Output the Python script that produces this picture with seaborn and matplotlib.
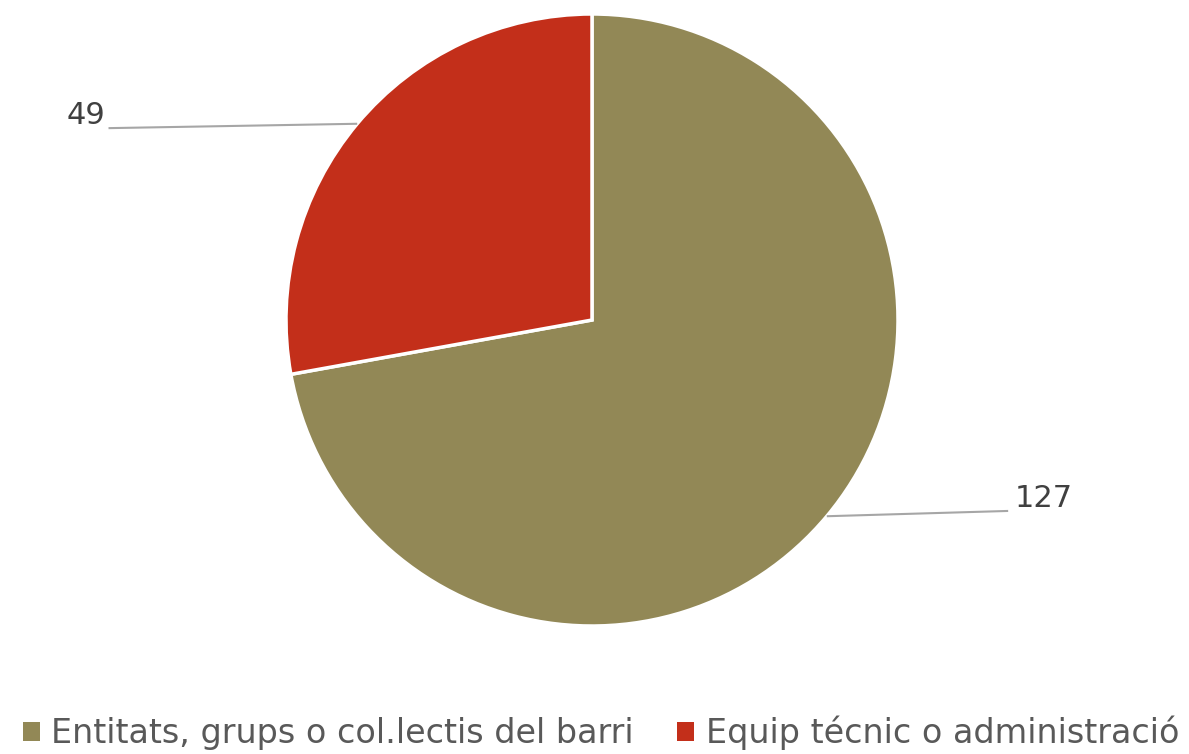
import numpy as np
import matplotlib
matplotlib.use("Agg")
import matplotlib.pyplot as plt
import seaborn as sns
from matplotlib.patches import Patch

categories = ["Entitats, grups o col.lectis del barri", "Equip técnic o administració"]
values = [127, 49]
colors = ["#928856", "#C32F1A"]

sns.set_theme(style="white")
plt.rcParams['font.family'] = ['DejaVu Sans']

W, H = 1189, 754
fig = plt.figure(figsize=(W / 100, H / 100), dpi=100)
ax = fig.add_axes([0, 0, 1, 1])
cx, cy, r = 592, 320, 306

wedges, _ = ax.pie(values, colors=colors, startangle=90, counterclock=False,
                   radius=1.0, center=(0, 0), frame=True,
                   wedgeprops=dict(edgecolor="white", linewidth=2.5))
ax.set_xlim(-cx / r, (W - cx) / r)
ax.set_ylim(-(H - cy) / r, cy / r)
ax.set_aspect("auto")
ax.axis("off")

label_ends = [(1.36, -0.624), (-1.58, 0.627)]
for w, v, (ex, ey) in zip(wedges, values, label_ends):
    ang = np.deg2rad((w.theta1 + w.theta2) / 2)
    sx, sy = np.cos(ang), np.sin(ang)
    ax.plot([sx, ex], [sy, ey], color="#A6A6A6", lw=1.5, solid_capstyle="butt")
    ha = "left" if ex > 0 else "right"
    ax.text(ex + (0.02 if ex > 0 else -0.01), ey + 0.04, str(v), ha=ha, va="center",
            fontsize=22, color="#404040")

handles = [Patch(facecolor=c, edgecolor="none") for c in colors]
fig.legend(handles, categories, loc="center", bbox_to_anchor=(601 / W, 1 - 733 / H),
           ncol=2, frameon=False, fontsize=24, handlelength=0.5, handleheight=0.5,
           handletextpad=0.35, columnspacing=1.3, labelcolor="#595959")

fig.savefig("out.png", dpi=100)
